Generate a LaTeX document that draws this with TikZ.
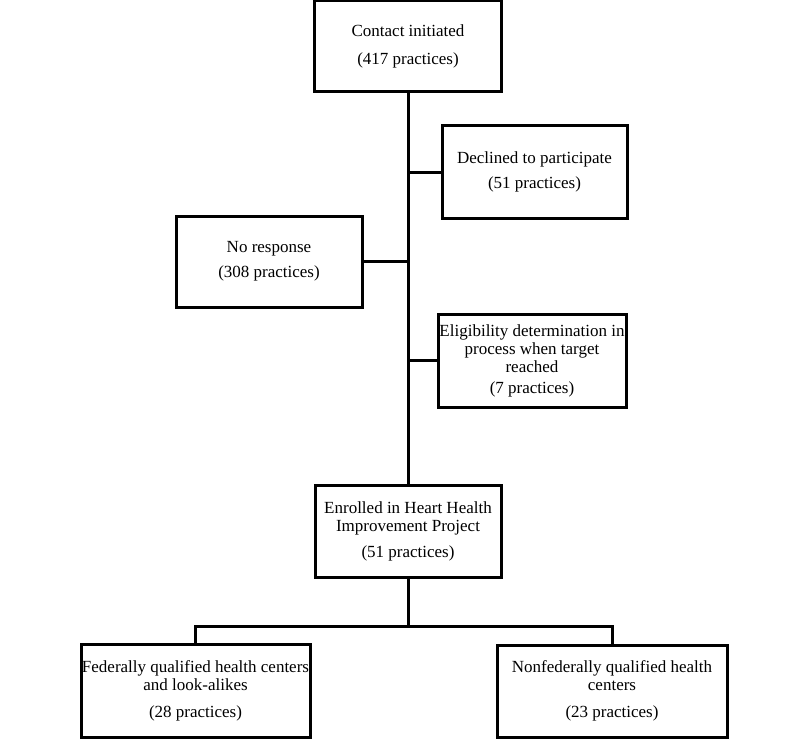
\documentclass[tikz,border=0pt]{standalone}
\usepackage{fontspec}
\setmainfont{Liberation Serif}
\begin{document}
\begin{tikzpicture}[x=1pt,y=1pt,
  box/.style={draw, line width=3pt, rectangle, inner sep=0pt, align=center,
    font=\fontsize{17}{18}\selectfont},
  link/.style={line width=3pt}]
\useasboundingbox (0,0) rectangle (800,-741);
\node[box, minimum width=187, minimum height=91] (contact) at (408,-46.5)
  {Contact initiated\\[10pt](417 practices)};
\node[box, minimum width=185, minimum height=92] (declined) at (534.5,-172)
  {Declined to participate\\[7pt](51 practices)};
\node[box, minimum width=186, minimum height=91] (noresp) at (269,-261.5)
  {No response\\[7pt](308 practices)};
\node[box, minimum width=188, minimum height=93] (elig) at (532,-360.5)
  {Eligibility determination in\\process when target\\reached\\[3pt](7 practices)};
\node[box, minimum width=186, minimum height=92] (enrolled) at (408,-531)
  {Enrolled in Heart Health\\Improvement Project\\[8pt](51 practices)};
\node[box, minimum width=229, minimum height=93] (fed) at (195.5,-690.5)
  {Federally qualified health centers\\and look-alikes\\[9pt](28 practices)};
\node[box, minimum width=230, minimum height=92] (nonfed) at (612,-691)
  {Nonfederally qualified health\\centers\\[9pt](23 practices)};
\coordinate (split) at (408,-626);
\draw[link] (contact.south) -- (enrolled.north);
\draw[link] (declined.west) -- (declined.west -| contact.south);
\draw[link] (noresp.east) -- (noresp.east -| contact.south);
\draw[link] (elig.west) -- (elig.west -| contact.south);
\draw[link] (enrolled.south) -- (split);
\draw[link] (fed.north) |- (split) -| (nonfed.north);
\end{tikzpicture}
\end{document}
